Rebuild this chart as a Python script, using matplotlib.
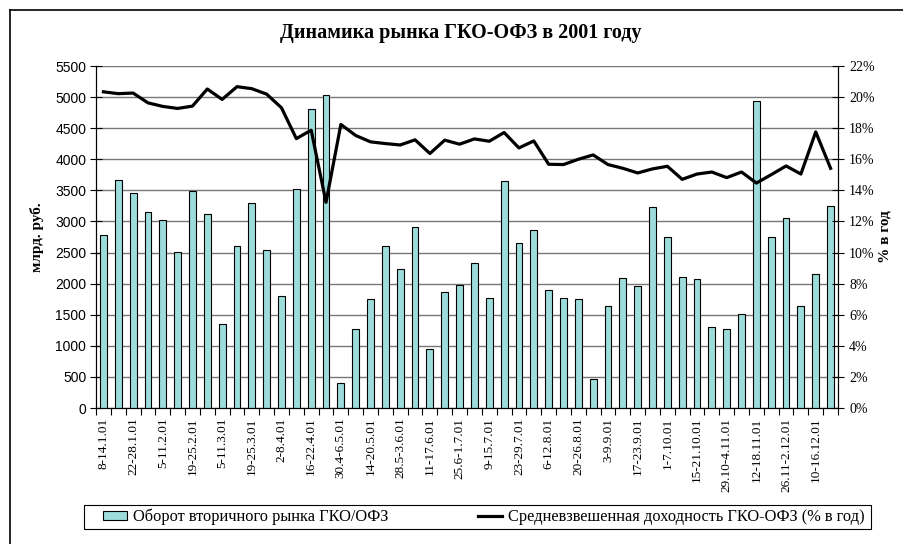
import matplotlib
matplotlib.use("Agg")
import matplotlib.pyplot as plt
import numpy as np
from matplotlib.lines import Line2D
from matplotlib.patches import Patch, Rectangle

# weekly data, 2001
weeks = [
    "8-14.1.01", "15-21.1.01", "22-28.1.01", "29.1-4.2.01", "5-11.2.01",
    "12-18.2.01", "19-25.2.01", "26.2-4.3.01", "5-11.3.01", "12-18.3.01",
    "19-25.3.01", "26.3-1.4.01", "2-8.4.01", "9-15.4.01", "16-22.4.01",
    "23-29.4.01", "30.4-6.5.01", "7-13.5.01", "14-20.5.01", "21-27.5.01",
    "28.5-3.6.01", "4-10.6.01", "11-17.6.01", "18-24.6.01", "25.6-1.7.01",
    "2-8.7.01", "9-15.7.01", "16-22.7.01", "23-29.7.01", "30.7-5.8.01",
    "6-12.8.01", "13-19.8.01", "20-26.8.01", "27.8-2.9.01", "3-9.9.01",
    "10-16.9.01", "17-23.9.01", "24-30.9.01", "1-7.10.01", "8-14.10.01",
    "15-21.10.01", "22-28.10.01", "29.10-4.11.01", "5-11.11.01", "12-18.11.01",
    "19-25.11.01", "26.11-2.12.01", "3-9.12.01", "10-16.12.01", "17-23.12.01",
]

turnover = [
    2785, 3660, 3455, 3160, 3030, 2515, 3485, 3115, 1350, 2605,
    3290, 2545, 1805, 3525, 4810, 5030, 400, 1263, 1747, 2602,
    2231, 2918, 941, 1866, 1972, 2339, 1774, 3651, 2661, 2855,
    1898, 1763, 1747, 473, 1634, 2086, 1957, 3226, 2742, 2102,
    2070, 1296, 1263, 1516, 4930, 2753, 3048, 1645, 2161, 3247,
]

yield_pct = [
    20.34, 20.22, 20.26, 19.63, 19.40, 19.27, 19.42, 20.52, 19.85, 20.67,
    20.54, 20.19, 19.31, 17.33, 17.87, 13.23, 18.24, 17.53, 17.12, 17.01,
    16.92, 17.25, 16.37, 17.23, 16.97, 17.31, 17.16, 17.72, 16.73, 17.18,
    15.68, 15.66, 16.00, 16.28, 15.66, 15.42, 15.12, 15.38, 15.55, 14.71,
    15.05, 15.18, 14.82, 15.18, 14.47, 15.01, 15.57, 15.05, 17.76, 15.42,
]

SERIF = "Liberation Serif"
SANS = "Liberation Sans"
bar_color = "#9CDCDA"

fig = plt.figure(figsize=(9.04, 5.44), dpi=100)
W, H = 904, 544
ax = fig.add_axes([96 / W, 1 - 408 / H, 742 / W, 342 / H])
ax2 = ax.twinx()

x = np.arange(len(weeks))
ax.bar(x, turnover, width=0.46, color=bar_color, edgecolor="black",
       linewidth=0.8, zorder=3)
ax2.plot(x, np.array(yield_pct) / 100, color="black", linewidth=2.3, zorder=4)

ax.set_xlim(-0.5, len(weeks) - 0.5)
ax.set_ylim(0, 5500)
ax.set_yticks(np.arange(0, 5501, 500))
ax2.set_ylim(0, 0.22)
ax2.set_yticks(np.arange(0, 0.2201, 0.02))
ax2.set_yticklabels([f"{int(round(v * 100))}%" for v in np.arange(0, 0.2201, 0.02)])

ax.yaxis.grid(True, color="#777777", linewidth=1.0, zorder=0)
ax.set_axisbelow(True)

# x labels every second week, tick marks between categories
ax.set_xticks(x[::2])
ax.set_xticklabels(weeks[::2], rotation=90, fontfamily=SERIF, fontsize=9.5)
ax.set_xticks(np.arange(-0.5, len(weeks), 1), minor=True)
ax.tick_params(axis="x", which="major", length=0, pad=7)
ax.tick_params(axis="x", which="minor", length=5, direction="out", width=0.8)
ax.tick_params(axis="y", length=8, direction="inout", width=0.8, pad=3)
ax2.tick_params(axis="y", length=8, direction="inout", width=0.8, pad=4)
for lab in ax.get_yticklabels():
    lab.set_fontfamily(SANS)
    lab.set_fontsize(10)
for lab in ax2.get_yticklabels():
    lab.set_fontfamily(SERIF)
    lab.set_fontsize(10)

for a in (ax, ax2):
    a.spines["top"].set_visible(False)
    for s in ("left", "right", "bottom"):
        a.spines[s].set_linewidth(0.8)

ax.set_ylabel("млрд. руб.", fontfamily=SERIF, fontweight="bold", fontsize=11,
              va="center")
ax.yaxis.set_label_coords(-0.0795, 0.5)
ax2.set_ylabel("% в год", fontfamily=SERIF, fontweight="bold", fontsize=11,
               rotation=90, va="center")
ax2.yaxis.set_label_coords(1.064, 0.5)

fig.text(461 / W, 1 - 33 / H, "Динамика рынка ГКО-ОФЗ в 2001 году",
         fontfamily=SERIF, fontweight="bold", fontsize=14.5,
         ha="center", va="center")

handles = [
    Patch(facecolor=bar_color, edgecolor="black", linewidth=0.8),
    Line2D([0], [0], color="black", linewidth=2.3),
]
labels = ["Оборот вторичного рынка ГКО/ОФЗ",
          "Средневзвешенная доходность ГКО-ОФЗ (% в год)"]
leg = fig.legend(handles, labels, ncol=2, loc="center left",
                 bbox_to_anchor=(103 / W, 1 - 517 / H),
                 frameon=False, borderpad=0, borderaxespad=0,
                 handlelength=1.45, handleheight=0.5, handletextpad=0.4,
                 columnspacing=5.45, prop={"family": SERIF, "size": 11.8})
# legend box
fig.add_artist(Rectangle((84 / W, 1 - 529 / H), 787 / W, 24 / H,
                         transform=fig.transFigure, fill=False,
                         edgecolor="black", linewidth=0.8))

# outer chart border (cut at right/bottom edge)
fig.add_artist(Line2D([10 / W, 1], [1 - 10 / H, 1 - 10 / H], color="black",
                      linewidth=1.2, transform=fig.transFigure))
fig.add_artist(Line2D([10 / W, 10 / W], [0, 1 - 10 / H], color="black",
                      linewidth=1.2, transform=fig.transFigure))

fig.savefig("out.png", dpi=100)
